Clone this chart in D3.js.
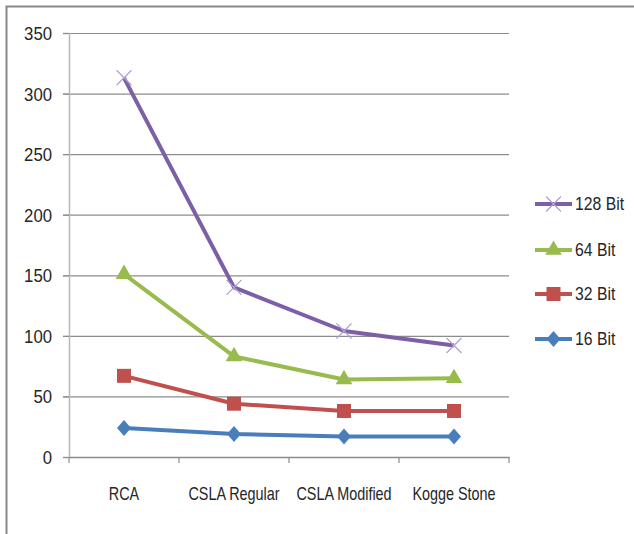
<!DOCTYPE html>
<html><head><meta charset="utf-8">
<script src="https://cdn.jsdelivr.net/npm/d3@7"></script>
<style>
body{margin:0;background:#fff;}
text{font-family:"Liberation Sans",Arial,sans-serif;fill:#262626;}
</style></head>
<body><svg id="chart" width="634" height="534"></svg>
<script>
const categories = ["RCA", "CSLA Regular", "CSLA Modified", "Kogge Stone"];
const seriesNames = ["128 Bit", "64 Bit", "32 Bit", "16 Bit"];
const bit128 = [313, 140, 104, 92];
const bit64 = [151, 83, 64, 65];
const bit32 = [67, 44, 38, 38];
const bit16 = [24, 19, 17, 17];
const yTicks = [0, 50, 100, 150, 200, 250, 300, 350];

(function(){
const seriesValues = [bit128, bit64, bit32, bit16];
const colors = ["#7d5fa5", "#98bb4e", "#c0504d", "#4a7ebb"];
const markers = ["x", "triangle", "square", "diamond"];

const svg = d3.select("#chart");
// outer frame
svg.append("path").attr("d","M6.5,540 L6.5,6.5 L640,6.5").attr("fill","none").attr("stroke","#888").attr("stroke-width",2);

const mLeft = 69, mRight = 509, mTop = 33, mBottom = 457;
const x = d3.scaleBand().domain(categories).range([mLeft, mRight]);
const y = d3.scaleLinear().domain([0, 350]).range([mBottom, mTop]);

// gridlines
svg.append("g").selectAll("line").data(yTicks.filter(d=>d>0)).join("line")
  .attr("x1", mLeft-6).attr("x2", mRight).attr("y1", d=>y(d)+0.5).attr("y2", d=>y(d)+0.5)
  .attr("stroke","#8c8c8c").attr("stroke-width",1.2);

// y axis
const yAxis = svg.append("g").attr("transform",`translate(${mLeft},0)`)
  .call(d3.axisLeft(y).tickValues(yTicks).tickSize(6).tickPadding(8));
yAxis.select(".domain").attr("stroke","#b8b8b8").attr("stroke-width",1.5);
yAxis.selectAll(".tick line").attr("stroke","#8c8c8c");
yAxis.selectAll("text").attr("x",0).attr("dy","0.36em").attr("font-size",18)
  .attr("transform","translate(-17,0) scale(0.93,1)").style("fill","#262626");

// x axis
const xAxis = svg.append("g").attr("transform",`translate(0,${mBottom})`)
  .call(d3.axisBottom(x).tickSize(0));
xAxis.select(".domain").attr("stroke","#8c8c8c").attr("stroke-width",1.5);
xAxis.selectAll("text").attr("y",0).attr("dy",0).attr("font-size",18)
  .attr("transform","translate(0,43) scale(0.8,1)").style("fill","#262626");
svg.append("g").selectAll("line").data(categories.concat(["__end"])).join("line")
  .attr("x1", d=> d==="__end" ? mRight : x(d)).attr("x2", d=> d==="__end" ? mRight : x(d))
  .attr("y1", mBottom).attr("y2", mBottom+6).attr("stroke","#8c8c8c").attr("stroke-width",1.2);

function drawMarker(g, type, color, cx, cy){
  if(type==="x"){
    const s=7.5;
    g.append("path").attr("d",`M${cx-s},${cy-s}L${cx+s},${cy+s}M${cx-s},${cy+s}L${cx+s},${cy-s}`)
     .attr("stroke","#b3a2d4").attr("stroke-width",1.3).attr("fill","none");
  } else if(type==="triangle"){
    g.append("path").attr("d",d3.symbol(d3.symbolTriangle,120)()).attr("transform",`translate(${cx},${cy})`).attr("fill",color);
  } else if(type==="square"){
    g.append("rect").attr("x",cx-7).attr("y",cy-7).attr("width",14).attr("height",14).attr("fill",color);
  } else {
    g.append("path").attr("d",`M${cx},${cy-8}L${cx+7},${cy}L${cx},${cy+8}L${cx-7},${cy}Z`).attr("fill",color);
  }
}

const line = d3.line().x((d,i)=>x(categories[i])+x.bandwidth()/2).y(d=>y(d));
for(let s=seriesValues.length-1;s>=0;s--){
  const g = svg.append("g");
  g.append("path").datum(seriesValues[s]).attr("d",line).attr("fill","none")
    .attr("stroke",colors[s]).attr("stroke-width",4).attr("stroke-linejoin","round");
  seriesValues[s].forEach((v,i)=>drawMarker(g, markers[s], colors[s], x(categories[i])+x.bandwidth()/2, y(v)));
}

// legend
const legY = [204, 250, 294, 339];
seriesNames.forEach((n,i)=>{
  const g = svg.append("g");
  g.append("line").attr("x1",535).attr("x2",572).attr("y1",legY[i]).attr("y2",legY[i]).attr("stroke",colors[i]).attr("stroke-width",4);
  drawMarker(g, markers[i], colors[i], 553.5, legY[i]);
  g.append("text").attr("x",0).attr("y",0).attr("dy","0.36em").attr("font-size",18)
    .attr("transform",`translate(575,${legY[i]}) scale(0.875,1)`).text(n);
});
})();
</script></body></html>
